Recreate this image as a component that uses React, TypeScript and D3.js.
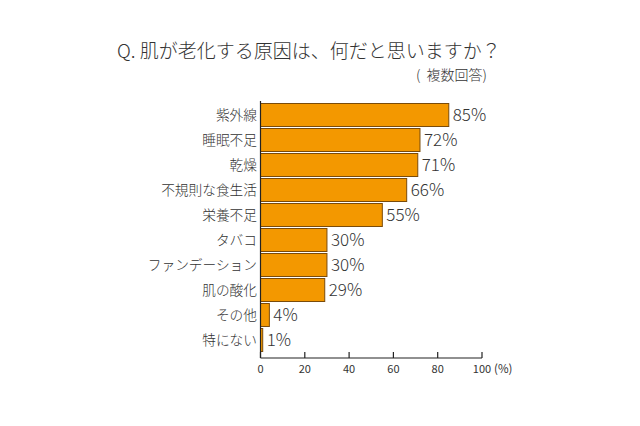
import React from "react";
import * as d3 from "d3";

const categories = ["紫外線", "睡眠不足", "乾燥", "不規則な食生活", "栄養不足", "タバコ", "ファンデーション", "肌の酸化", "その他", "特にない"];
const values = [85, 72, 71, 66, 55, 30, 30, 29, 4, 1];
const ticks = [0, 20, 40, 60, 80, 100];

const FONT = "'Noto Sans CJK JP', 'Noto Sans', sans-serif";

export default function App() {
  const W = 640, H = 426;
  const x = d3.scaleLinear().domain([0, 100]).range([260.5, 482]);
  const y = d3.scaleBand<string>().domain(categories).range([102.5, 352.5]).paddingInner(0.08).paddingOuter(0.04);
  const axisY = 358;
  return (
    <svg width={W} height={H} style={{ position: "absolute", left: 0, top: 0, background: "#fff" }} fontFamily={FONT}>
      <rect x={0} y={0} width={W} height={H} fill="#fff" />
      <text x={117} y={58} fontSize={19} fill="#333" fontWeight={300}>Q. 肌が老化する原因は、何だと思いますか？</text>
      <text x={487} y={80} fontSize={14} fill="#333" textAnchor="end" fontWeight={300} xmlSpace="preserve">(  複数回答)</text>
      {categories.map((c, i) => (
        <g key={c}>
          <rect x={x(0)} y={y(c)} width={Math.max(x(values[i]) - x(0), 1)} height={y.bandwidth()} fill="#F39800" stroke="#7A4B0A" strokeWidth={1} />
          <text x={257} y={(y(c) as number) + y.bandwidth() / 2} dy="0.36em" fontSize={13.7} fill="#333" textAnchor="end" fontWeight={300}>{c}</text>
          <text x={x(values[i]) + 4} y={(y(c) as number) + y.bandwidth() / 2} dy="0.36em" fontSize={17} fill="#333" fontWeight={300}>{values[i]}%</text>
        </g>
      ))}
      <line x1={x(0)} x2={x(0)} y1={101} y2={axisY} stroke="#222" strokeWidth={1.2} />
      <line x1={x(0)} x2={x(100)} y1={axisY} y2={axisY} stroke="#222" strokeWidth={1.2} />
      {ticks.map((t) => (
        <g key={t}>
          <line x1={x(t)} x2={x(t)} y1={axisY} y2={axisY - 6} stroke="#222" strokeWidth={1.2} />
          <text x={x(t)} y={axisY + 15} fontSize={11} fill="#333" textAnchor="middle">{t}</text>
        </g>
      ))}
      <text x={x(100) + 12} y={axisY + 15} fontSize={11.5} fill="#333">(%)</text>
    </svg>
  );
}
